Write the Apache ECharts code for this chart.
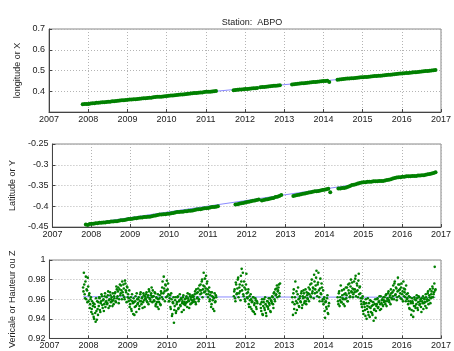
<!DOCTYPE html>
<html><head><meta charset="utf-8">
<script src="https://cdn.jsdelivr.net/npm/echarts@6/dist/echarts.min.js"></script>
<style>html,body{margin:0;padding:0;background:#fff}#c{width:454px;height:351px}</style>
</head><body><div id="c"></div>
<script>
// ---- data ----
const titleText = 'Station:  ABPO';
const yNames = ['longitude or X', 'Latitude or Y', 'Vericale or Hauteur ou Z'];
const xRange = [2007, 2017];
const yRanges = [[0.3, 0.7, 0.1], [-0.45, -0.25, 0.05], [0.92, 1.0, 0.02]];

// segment start years (data gaps between them)
const segStart = [2007.86, 2011.71, 2012.39, 2013.20, 2014.36];
const xyStep = 0.05;
const zStep = 0.02;

const xSeg = [
  [.337,.338,.339,.339,.341,.342,.342,.344,.344,.346,
   .347,.347,.348,.350,.350,.352,.352,.353,.354,.356,
   .357,.357,.358,.359,.360,.360,.361,.362,.363,.364,
   .365,.366,.366,.368,.369,.369,.371,.372,.373,.374,
   .374,.375,.376,.377,.378,.379,.380,.381,.382,.383,
   .384,.384,.386,.387,.388,.389,.390,.391,.391,.393,
   .394,.394,.396,.397,.398,.398,.399,.400,.401],
  [.405,.406,.407,.408,.409,.410,.411,.411,.412,.413,.414,.415,.416],
  [.419,.420,.421,.422,.423,.424,.425,.426,.427,.428,.429],
  [.433,.434,.435,.436,.437,.438,.439,.440,.441,.442,
   .443,.444,.445,.446,.447,.448,.449,.450,.451,.445],
  [.456,.457,.458,.459,.460,.461,.462,.463,.463,.464,
   .465,.466,.467,.468,.469,.469,.470,.471,.472,.473,
   .474,.475,.475,.476,.477,.478,.479,.480,.481,.482,
   .483,.484,.485,.486,.487,.488,.488,.489,.490,.491,
   .492,.493,.494,.495,.496,.497,.498,.499,.500,.501,.502]
];

const ySeg = [
  [-.444,-.445,-.443,-.442,-.442,-.441,-.441,-.440,-.440,-.439,
   -.439,-.438,-.438,-.437,-.437,-.436,-.436,-.435,-.434,-.434,
   -.433,-.432,-.431,-.431,-.430,-.429,-.429,-.428,-.427,-.427,
   -.426,-.426,-.425,-.425,-.424,-.423,-.422,-.421,-.420,-.420,
   -.419,-.419,-.418,-.418,-.417,-.416,-.415,-.414,-.414,-.413,
   -.413,-.412,-.412,-.411,-.411,-.410,-.409,-.408,-.407,-.407,
   -.406,-.405,-.405,-.404,-.403,-.402,-.402,-.401,-.400],
  [-.396,-.395,-.394,-.393,-.392,-.391,-.390,-.389,-.388,-.387,-.386,-.385,-.384],
  [-.386,-.385,-.384,-.383,-.382,-.381,-.380,-.378,-.377,-.375,-.373],
  [-.375,-.374,-.373,-.372,-.371,-.370,-.369,-.368,-.367,-.366,
   -.365,-.364,-.364,-.363,-.362,-.361,-.360,-.359,-.358,-.366],
  [-.357,-.357,-.356,-.356,-.355,-.353,-.351,-.349,-.348,-.347,
   -.345,-.344,-.343,-.342,-.342,-.341,-.341,-.341,-.340,-.340,
   -.340,-.339,-.339,-.339,-.338,-.337,-.336,-.335,-.333,-.332,
   -.331,-.330,-.330,-.329,-.329,-.328,-.328,-.328,-.327,-.327,
   -.327,-.326,-.326,-.325,-.325,-.324,-.323,-.322,-.321,-.320,-.318]
];

// vertical component, samples at segStart + i*zStep
const zSeg = [
  [.972,.987,.965,.978,.960,.969,.982,.958,.966,.955,
   .962,.950,.945,.956,.940,.952,.937,.948,.958,.944,
   .953,.961,.947,.958,.963,.951,.960,.955,.966,.957,
   .962,.956,.968,.959,.953,.964,.960,.958,.966,.955,
   .961,.967,.957,.970,.963,.972,.960,.975,.966,.969,
   .978,.964,.971,.960,.976,.967,.973,.962,.958,.969,
   .955,.962,.948,.958,.945,.957,.952,.963,.947,.960,
   .956,.962,.953,.965,.958,.961,.951,.966,.959,.963,
   .960,.967,.957,.964,.970,.961,.958,.966,.962,.969,
   .963,.958,.966,.955,.961,.952,.960,.957,.964,.954,
   .966,.972,.960,.983,.968,.975,.962,.979,.970,.965,
   .958,.964,.950,.960,.945,.956,.936,.953,.962,.948,
   .957,.963,.951,.959,.954,.961,.947,.958,.964,.955,
   .960,.956,.963,.952,.961,.958,.965,.955,.962,.959,
   .957,.963,.960,.968,.955,.966,.962,.971,.960,.969,
   .975,.966,.980,.970,.987,.973,.968,.984,.976,.970,
   .965,.972,.960,.967,.955,.963,.950,.961,.966,.958,.962],
  [.963,.970,.958,.975,.966,.980,.962,.972,.968,.984,
   .991,.974,.965,.978,.960,.970,.986,.962,.967,.955,
   .963,.952,.960,.957,.948,.962,.954,.945,.959,.950,.956],
  [.955,.948,.960,.944,.957,.951,.962,.946,.953,.958,
   .950,.956,.961,.947,.958,.963,.955,.966,.960,.970,
   .965,.974,.968,.972,.963,.976],
  [.962,.944,.970,.955,.978,.958,.949,.965,.960,.952,
   .963,.957,.968,.954,.961,.966,.958,.970,.955,.964,
   .960,.972,.965,.975,.962,.980,.968,.971,.985,.966,
   .974,.989,.963,.977,.969,.958,.981,.965,.972,.960,
   .955,.962,.941,.958,.950,.964,.945,.956],
  [.962,.955,.968,.959,.974,.957,.964,.960,.970,.953,
   .966,.961,.972,.958,.969,.976,.963,.980,.967,.971,
   .965,.978,.970,.984,.968,.974,.962,.986,.972,.966,
   .958,.952,.963,.945,.955,.949,.960,.940,.953,.947,
   .956,.942,.951,.958,.946,.954,.938,.950,.960,.948,
   .955,.961,.952,.958,.949,.963,.956,.960,.953,.959,
   .962,.955,.965,.958,.960,.968,.957,.964,.970,.961,
   .967,.974,.960,.978,.965,.971,.962,.982,.969,.975,
   .966,.972,.960,.968,.978,.963,.970,.958,.965,.961,
   .955,.963,.950,.958,.944,.961,.956,.948,.962,.953,
   .959,.964,.951,.957,.962,.955,.960,.947,.958,.963,
   .956,.960,.953,.962,.958,.966,.955,.964,.970,.961,
   .968,.973,.962,.967,.993,.970]
];
// second set of vertical samples, half a step later
const zSeg2 = [
  [.968,.975,.961,.983,.970,.957,.973,.964,.951,.960,
   .947,.958,.953,.942,.955,.946,.961,.939,.950,.957,
   .962,.949,.956,.965,.954,.959,.948,.963,.952,.958,
   .955,.964,.951,.960,.967,.957,.962,.953,.959,.963,
   .966,.958,.973,.961,.968,.956,.970,.964,.974,.960,
   .967,.975,.962,.979,.969,.957,.972,.965,.961,.952,
   .959,.950,.965,.956,.961,.944,.958,.953,.966,.955,
   .960,.950,.958,.967,.955,.962,.957,.964,.952,.961,
   .965,.958,.962,.955,.968,.960,.964,.972,.957,.963,
   .959,.967,.953,.962,.957,.965,.950,.961,.955,.968,
   .962,.978,.966,.971,.958,.974,.969,.963,.976,.958,
   .961,.952,.966,.943,.957,.962,.949,.959,.946,.955,
   .962,.950,.958,.965,.953,.960,.956,.962,.949,.957,
   .954,.961,.957,.966,.959,.951,.963,.960,.956,.964,
   .962,.958,.965,.957,.970,.961,.967,.958,.974,.965,
   .969,.978,.962,.974,.967,.981,.971,.965,.978,.962,
   .968,.958,.964,.952,.967,.959,.962,.948,.957,.964],
  [.968,.961,.977,.965,.971,.982,.966,.975,.959,.978,
   .969,.987,.963,.972,.958,.975,.966,.961,.970,.952,
   .959,.965,.950,.958,.962,.947,.956,.961,.952,.958],
  [.951,.957,.945,.953,.960,.949,.955,.943,.958,.952,
   .961,.954,.948,.959,.956,.962,.951,.967,.958,.964,
   .971,.962,.969,.975,.966],
  [.957,.966,.950,.962,.946,.968,.956,.972,.953,.961,
   .958,.966,.951,.963,.969,.956,.962,.958,.967,.961,
   .966,.958,.970,.963,.976,.966,.972,.961,.978,.970,
   .982,.967,.975,.987,.962,.971,.966,.976,.958,.969,
   .960,.948,.957,.952,.961,.946,.953],
  [.958,.966,.953,.962,.957,.969,.961,.955,.965,.960,
   .972,.964,.958,.975,.966,.962,.973,.968,.977,.962,
   .970,.967,.981,.963,.976,.969,.979,.965,.973,.961,
   .955,.961,.948,.957,.952,.943,.956,.950,.961,.944,
   .952,.959,.947,.953,.944,.957,.949,.955,.941,.953,
   .960,.951,.957,.963,.955,.950,.959,.954,.962,.957,
   .958,.964,.953,.961,.966,.959,.962,.955,.966,.960,
   .963,.969,.976,.964,.972,.959,.968,.975,.963,.970,
   .961,.976,.965,.958,.971,.967,.962,.974,.960,.966,
   .958,.951,.962,.956,.949,.958,.942,.953,.960,.951,
   .955,.961,.949,.963,.954,.958,.952,.961,.956,.950,
   .961,.957,.965,.951,.960,.968,.959,.962,.956,.965,
   .962,.971,.965,.976,.969]
];

// linear trend lines (blue), endpoints [year, value]
const xTrend = [[2007.86, 0.338], [2016.86, 0.502]];
const yTrend = [[2007.86, -0.443], [2016.86, -0.319]];
const zTrend = [[2007.86, 0.9625], [2016.86, 0.9620]];

// ---- build ----
function segPoints(segs, step, offset) {
  const out = [];
  segs.forEach((vals, k) => vals.forEach((v, i) => out.push([+(segStart[k] + offset + i * step).toFixed(4), v])));
  return out;
}
const FONT = 'Liberation Sans';
const tops = [29, 144, 260];
const PH = 83;
const nameGaps = [24, 32, 29];
const green = '#008000';
const blue = '#8a8aff';
const fmtY = v => String(+(+v).toFixed(3));

const grids = [], xAxes = [], yAxes = [], series = [];
const dataSets = [
  segPoints(xSeg, xyStep, 0),
  segPoints(ySeg, xyStep, 0),
  segPoints(zSeg, zStep, 0).concat(segPoints(zSeg2, zStep, zStep / 2))
];
const trends = [xTrend, yTrend, zTrend];
for (let k = 0; k < 3; k++) {
  grids.push({left: 49, right: 8, top: tops[k], height: PH, show: true, borderColor: '#888', borderWidth: 1, backgroundColor: '#fff'});
  xAxes.push({
    type: 'value', gridIndex: k, min: xRange[0], max: xRange[1], interval: 1,
    axisLine: {show: true, onZero: false, lineStyle: {color: '#444', width: 1}},
    axisTick: {show: true, inside: true, length: 3, lineStyle: {color: '#444'}},
    axisLabel: {fontFamily: FONT, fontSize: 9, color: '#222', margin: 3, formatter: v => String(v), showMaxLabel: true},
    splitLine: {show: true, lineStyle: {type: [1, 2], color: '#b4b4b4', width: 1}}
  });
  const r = yRanges[k];
  yAxes.push({
    type: 'value', gridIndex: k, min: r[0], max: r[1], interval: r[2],
    name: yNames[k], nameLocation: 'middle', nameGap: nameGaps[k], nameRotate: 90,
    nameTextStyle: {fontFamily: FONT, fontSize: 9, color: '#222'},
    axisLine: {show: true, onZero: false, lineStyle: {color: '#444', width: 1}},
    axisTick: {show: true, inside: true, length: 3, lineStyle: {color: '#444'}},
    axisLabel: {fontFamily: FONT, fontSize: 9, color: '#222', margin: 4, formatter: fmtY, showMinLabel: k !== 0},
    splitLine: {show: true, lineStyle: {type: [1, 2], color: '#b4b4b4', width: 1}}
  });
  series.push({
    type: 'line', xAxisIndex: k, yAxisIndex: k, data: trends[k], showSymbol: false, symbol: 'none',
    lineStyle: {color: blue, width: 1}, z: 2
  });
  series.push({
    type: 'scatter', xAxisIndex: k, yAxisIndex: k, data: dataSets[k],
    symbol: 'circle', symbolSize: k === 2 ? 2.6 : 4, itemStyle: {color: green, opacity: 1}, z: 3
  });
}

const chart = echarts.init(document.getElementById('c'), null, {renderer: 'canvas'});
chart.setOption({
  animation: false,
  backgroundColor: '#fff',
  title: {text: titleText, left: 247, top: 13, textAlign: 'center',
    textStyle: {fontFamily: FONT, fontSize: 9, fontWeight: 'normal', color: '#222'}},
  grid: grids, xAxis: xAxes, yAxis: yAxes, series: series
});
</script>
</body></html>
